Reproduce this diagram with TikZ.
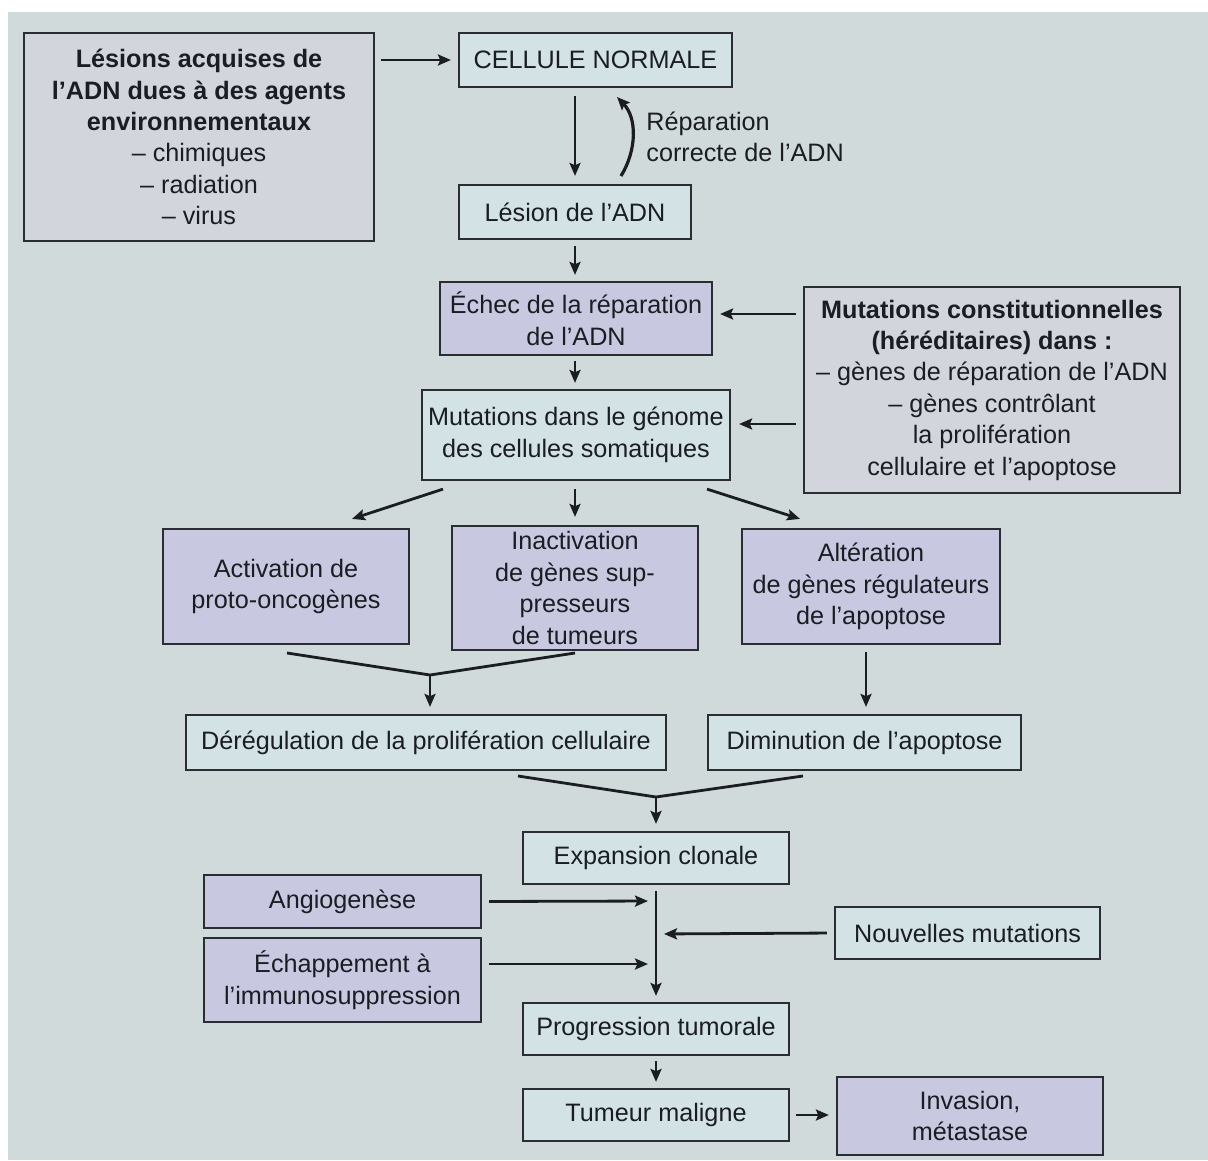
\documentclass[tikz,border=0pt]{standalone}
\usepackage{fontspec}
\setmainfont{Liberation Sans}
\usetikzlibrary{arrows.meta,calc}
\definecolor{bgc}{HTML}{D0DADB}
\definecolor{cyanbox}{HTML}{D2E2E5}
\definecolor{lavbox}{HTML}{C8C9E0}
\definecolor{graybox}{HTML}{D3D5DD}
\definecolor{edge}{HTML}{2A2E33}
\definecolor{txt}{HTML}{1A1D22}
\tikzset{
  box/.style={draw=edge, line width=1.1pt, inner sep=0pt, align=center, text=txt,
    font=\fontsize{12.6}{15.7}\selectfont},
  cbox/.style={box, fill=cyanbox},
  lbox/.style={box, fill=lavbox},
  gbox/.style={box, fill=graybox, font=\bfseries\fontsize{12.6}{15.7}\selectfont},
  conn/.style={draw=txt, line width=1.4pt},
  arr/.style={conn, -{Stealth[length=6.5pt,width=5.5pt,inset=1.2pt]}},
  sz/.style 2 args={minimum width=#1*0.5pt, minimum height=#2*0.5pt}
}
\begin{document}
\begin{tikzpicture}[x=0.5pt,y=-0.5pt]
\useasboundingbox (0,0) rectangle (1208,1160);
\fill[white] (0,0) rectangle (1208,1160);
\fill[bgc] (8,12) rectangle (1208,1160);

% nodes
\node[gbox, sz={350}{208}] (lesions) at (199,137) {Lésions acquises de\\l’ADN dues à des agents\\environnementaux\\\mdseries – chimiques\\\mdseries – radiation\\\mdseries – virus};
\node[cbox, sz={273}{54}] (normale) at (595.5,60) {CELLULE NORMALE};
\node[cbox, sz={232}{54}] (lesion) at (575,212) {Lésion de l’ADN};
\node[lbox, sz={272}{73}] (echec) at (576,318.5) {Échec de la réparation\\de l’ADN};
\node[cbox, sz={308}{90}] (mutsom) at (576,435) {Mutations dans le génome\\des cellules somatiques};
\node[gbox, sz={376}{206}] (mutcons) at (992,390) {Mutations constitutionnelles\\(héréditaires) dans :\\\mdseries – gènes de réparation de l’ADN\\\mdseries – gènes contrôlant\\\mdseries la prolifération\\\mdseries cellulaire et l’apoptose};
\node[lbox, sz={246}{115}] (activ) at (286,586.5) {Activation de\\proto-oncogènes};
\node[lbox, sz={246}{124}] (inact) at (575,588) {Inactivation\\de gènes sup-\\presseurs\\de tumeurs};
\node[lbox, sz={258}{115}] (alter) at (871,586.5) {Altération\\de gènes régulateurs\\de l’apoptose};
\node[cbox, sz={480}{55}] (dereg) at (426,742.5) {Dérégulation de la prolifération cellulaire};
\node[cbox, sz={313}{55}] (dimin) at (864.5,742.5) {Diminution de l’apoptose};
\node[cbox, sz={266}{52}] (expan) at (656,858) {Expansion clonale};
\node[lbox, sz={277}{53}] (angio) at (342.5,901.5) {Angiogenèse};
\node[lbox, sz={277}{84}] (echap) at (342.5,980) {Échappement à\\l’immunosuppression};
\node[cbox, sz={265}{52}] (nouv) at (967.5,933) {Nouvelles mutations};
\node[cbox, sz={266}{52}] (progr) at (656,1029) {Progression tumorale};
\node[cbox, sz={266}{52}] (tumeur) at (656,1115) {Tumeur maligne};
\node[lbox, sz={266}{78}] (invas) at (970,1116) {Invasion,\\métastase};
\node[anchor=west, align=left, inner sep=0pt, text=txt, font=\fontsize{12.6}{15.7}\selectfont] (replab) at (646,137) {Réparation\\correcte de l’ADN};

% coordinates
\coordinate (r1) at (621,176);
\coordinate (r2) at (617,97);
\coordinate (a1) at (287,653);
\coordinate (a2) at (575,653);
\coordinate (m1) at (430,675);
\coordinate (b1) at (518,776);
\coordinate (b2) at (803,776);
\coordinate (m2) at (656,797);
\coordinate (v1) at (656,934);
\coordinate (v2) at (656,901);
\coordinate (v3) at (656,964);

% connectors
\draw[arr, shorten <=3pt, shorten >=3.5pt] (lesions.east |- normale.west) -- (normale.west);
\draw[arr, shorten <=4pt, shorten >=4pt] (lesion.north |- normale.south) -- (lesion.north);
\draw[arr, line width=1.6pt] (r1) .. controls (637,150) and (637,118) .. (r2);
\draw[arr, shorten <=3pt, shorten >=3pt] (lesion.south) -- (lesion.south |- echec.north);
\draw[arr, shorten <=2.5pt, shorten >=3pt] (echec.south -| lesion.south) -- (lesion.south |- mutsom.north);
\draw[arr, shorten <=3.5pt, shorten >=3.5pt] (mutcons.west |- 0,314) -- (echec.east |- 0,314);
\draw[arr, shorten <=3.5pt, shorten >=4pt] (mutcons.west |- 0,424) -- (mutsom.east |- 0,424);
\draw[arr] ($(mutsom.south)+(-133,8)$) -- ($(activ.north)+(66,-9)$);
\draw[arr, shorten <=4pt, shorten >=4pt] (lesion.south |- mutsom.south) -- (inact.north);
\draw[arr] ($(mutsom.south)+(131,8)$) -- ($(alter.north)+(-71,-9)$);
\draw[conn] (a1) -- (m1) -- (a2);
\draw[arr, shorten >=3.5pt] (m1) -- (m1 |- dereg.north);
\draw[arr, shorten <=4pt, shorten >=3.5pt] (866,644) coordinate (alts) -- (alts |- dimin.north);
\draw[conn] (b1) -- (m2) -- (b2);
\draw[arr, shorten >=3.5pt] (m2) -- (expan.north);
\draw[arr, shorten <=3pt, shorten >=3pt] (expan.south) -- (progr.north);
\draw[arr, shorten <=3.5pt, shorten >=4pt] (angio.east) -- (v2);
\draw[arr, shorten <=3.5pt, shorten >=4pt] (echap.east |- v3) -- (v3);
\draw[arr, shorten <=3.5pt, shorten >=4pt] (nouv.west) -- (v1);
\draw[arr, shorten <=2.5pt, shorten >=3pt] (progr.south) -- (tumeur.north);
\draw[arr, shorten <=3pt, shorten >=3.5pt] (tumeur.east) -- (invas.west |- tumeur.east);
\end{tikzpicture}
\end{document}
